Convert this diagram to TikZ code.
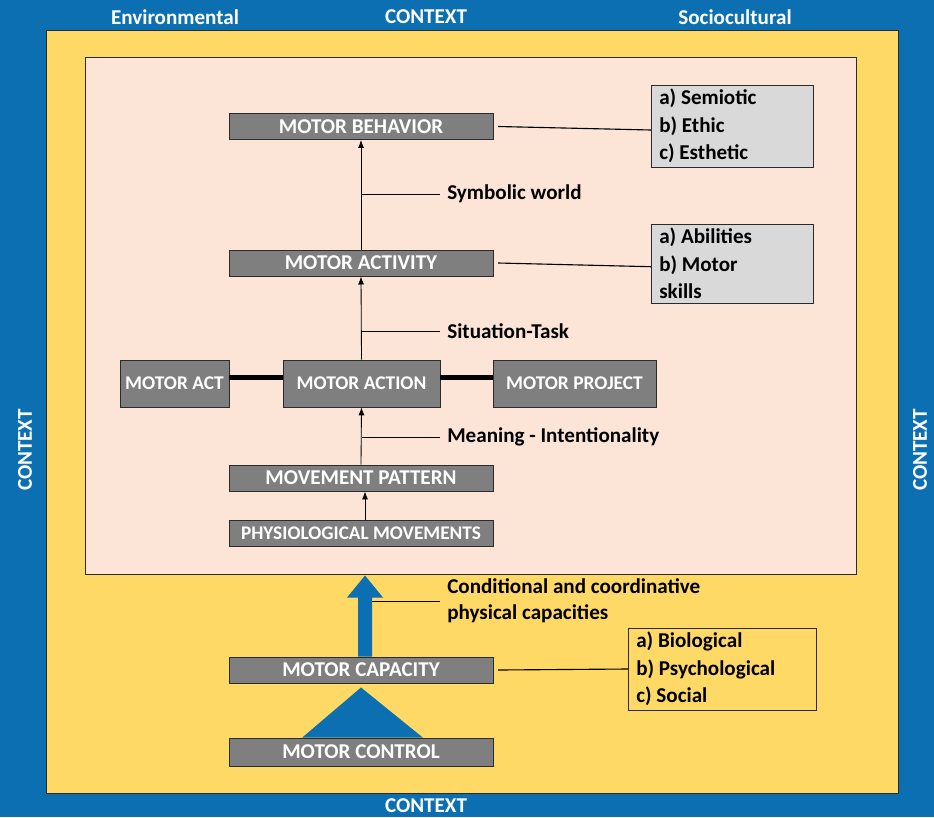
\documentclass[tikz,border=0pt]{standalone}
\usepackage{fontspec}
\setmainfont{Carlito}
\usepackage{xcolor}
\usepackage{tikz}
\usetikzlibrary{calc,arrows.meta,positioning}
\definecolor{bluex}{HTML}{0B6FB2}
\definecolor{yellowx}{HTML}{FFD966}
\definecolor{pinkx}{HTML}{FCE4D6}
\definecolor{grayx}{HTML}{7F7F7F}
\definecolor{lightx}{HTML}{D9D9D9}
\definecolor{edgex}{HTML}{2B2B2B}
\tikzset{
  ar/.style={-{Latex[length=2mm,width=1.5mm]},line width=0.6pt,black},
  box/.style={draw=edgex,fill=grayx,text=white,font=\bfseries\fontsize{15}{18}\selectfont,inner sep=2pt,minimum width=6.6cm,minimum height=0.66cm},
  midbox/.style={box,font=\bfseries\fontsize{13.8}{16}\selectfont,minimum height=1.175cm},
  lst/.style={draw=edgex,align=flush left,anchor=west,font=\bfseries\fontsize{15}{19.5}\selectfont,inner xsep=0.2cm,inner ysep=3pt},
  lbl/.style={anchor=west,align=flush left,font=\bfseries\fontsize{15}{18.5}\selectfont,inner sep=0pt},
  ctx/.style={text=white,font=\bfseries\fontsize{15}{18}\selectfont,inner sep=0pt}
}
\begin{document}
\begin{tikzpicture}[x=0.025cm,y=-0.025cm]
% frames
\fill[bluex] (0,0) rectangle (934,817);
\draw[edgex,fill=yellowx] (46,30) rectangle (898,793);
\draw[edgex,fill=pinkx] (85,57) rectangle (856,574);
% context labels
\node[ctx] (envir) at (175,17) {Environmental};
\node[ctx] (ctxtop) at (426,17) {CONTEXT};
\node[ctx] (socio) at (735,17) {Sociocultural};
\node[ctx] (ctxbot) at (426,806) {CONTEXT};
\node[ctx,rotate=90] (ctxleft) at (25,450) {CONTEXT};
\node[ctx,rotate=90] (ctxright) at (920,450) {CONTEXT};
% chain of boxes
\node[box] (behav) at (361,126.5) {MOTOR BEHAVIOR};
\node[box] (activ) at (361,263) {MOTOR ACTIVITY};
\node[midbox,minimum width=3.925cm] (action) at (361.5,383.5) {MOTOR ACTION};
\node[midbox,minimum width=2.725cm] (act) at (174.5,383.5) {MOTOR ACT};
\node[midbox,minimum width=4.075cm] (project) at (574.5,383.5) {MOTOR PROJECT};
\node[box] (pattern) at (361,478) {MOVEMENT PATTERN};
\node[box,font=\bfseries\fontsize{13.7}{16}\selectfont] (physio) at (361,533) {PHYSIOLOGICAL MOVEMENTS};
\node[box] (capac) at (361,670) {MOTOR CAPACITY};
\node[box,minimum height=0.7cm] (control) at (361,752) {MOTOR CONTROL};
% side lists
\node[lst,fill=lightx,text width=3.65cm] (semio) at (651,126) {a) Semiotic\\b) Ethic\\c) Esthetic};
\node[lst,fill=lightx,text width=3.65cm] (abil) at (651,263.5) {a) Abilities\\b) Motor\\skills};
\node[lst,text width=4.3cm] (biol) at (628,669) {a) Biological\\b) Psychological\\c) Social};
\draw[thick] ([xshift=0.12cm]behav.east) -- ([yshift=-0.1cm]semio.west);
\draw[thick] ([xshift=0.12cm]activ.east) -- ([yshift=-0.08cm]abil.west);
\draw[thick] ([xshift=0.12cm]capac.east) -- (biol.west);
% arrows
\draw[ar] (activ.north) -- (behav.south);
\draw[ar] (action.north) -- (activ.south);
\draw[ar] (pattern.north) -- (action.south);
\draw[ar] ([xshift=0.1cm]physio.north) -- ([xshift=0.1cm]pattern.south);
\draw[line width=3.5pt] ([yshift=0.15cm]act.east) -- ([yshift=0.15cm]action.west);
\draw[line width=3.5pt] ([yshift=0.15cm]action.east) -- ([yshift=0.15cm]project.west);
% labels on the arrows
\node[lbl] (symb) at (447,194) {Symbolic world};
\node[lbl] (situ) at (447,331) {Situation-Task};
\node[lbl] (mean) at (447,437) {Meaning - Intentionality};
\node[lbl] (cond) at (447,601) {Conditional and coordinative\\physical capacities};
\draw ([xshift=-0.18cm]symb.west) -- (symb.west -| behav.south);
\draw ([xshift=-0.18cm]situ.west) -- (situ.west -| activ.south);
\draw ([xshift=-0.18cm]mean.west) -- (mean.west -| action.south);
% blue arrow and triangle
\coordinate (shaft) at ($(capac.north)+(11,0)$);
\fill[bluex] ($(capac.north)+(-3,0)$) -- ++(0,-59) -- ++(-11,0) -- ($(capac.north)+(4,-81)$)
  -- ($(capac.north)+(22,-59)$) -- ++(-11,0) -- (shaft) -- cycle;
\draw ([xshift=-0.18cm]cond.west) -- (cond.west -| shaft);
\fill[bluex] ([yshift=-0.1cm]capac.south) -- ($(control.north)+(-59,0)$) -- ($(control.north)+(62,0)$) -- cycle;
\end{tikzpicture}
\end{document}
